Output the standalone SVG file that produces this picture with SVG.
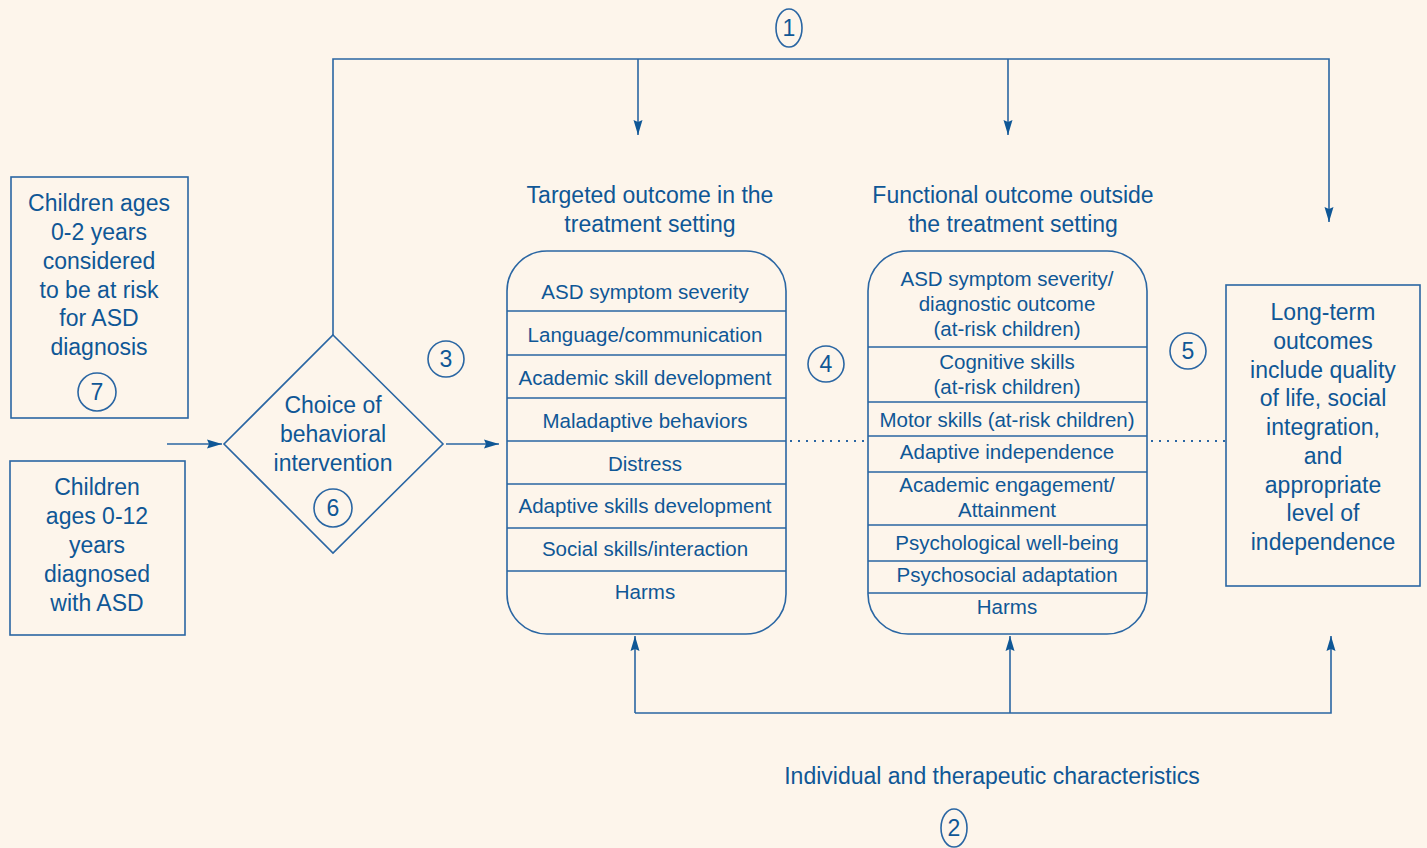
<svg xmlns="http://www.w3.org/2000/svg" width="1427" height="848" viewBox="0 0 1427 848">
<defs>
<style>
text{font-family:"Liberation Sans","DejaVu Sans",sans-serif;fill:#0f5796;text-anchor:middle;font-size:23px}
.h{font-size:23px}
.s{font-size:20.5px}
.n{font-size:23px}
.ln{fill:none;stroke:#2a66a3;stroke-width:1.6}
.dot{fill:none;stroke:#2a66a3;stroke-width:2;stroke-dasharray:2 6}
</style>
<marker id="ab" viewBox="0 0 15 10" refX="15" refY="5" markerWidth="15" markerHeight="10" markerUnits="userSpaceOnUse" orient="auto">
<path d="M0,0.5 L15,5 L0,9.5 L2,5 Z" fill="#0f5796"/>
</marker>
</defs>
<rect width="1427" height="848" fill="#fdf5eb"/>

<g id="connectors">
<path class="ln" d="M333,335 V59 H1329 V222" marker-end="url(#ab)"/>
<path class="ln" d="M638,59 V135" marker-end="url(#ab)"/>
<path class="ln" d="M1008,59 V135" marker-end="url(#ab)"/>
<path class="ln" d="M167,444 H222" marker-end="url(#ab)"/>
<path class="ln" d="M446,444 H499" marker-end="url(#ab)"/>
<path class="ln" d="M635,713 H1331 V636" marker-end="url(#ab)"/>
<path class="ln" d="M635,713 V636" marker-end="url(#ab)"/>
<path class="ln" d="M1010,713 V636" marker-end="url(#ab)"/>
<path class="dot" d="M790,441 H868"/>
<path class="dot" d="M1151,441 H1225"/>
</g>

<g id="label1">
<ellipse class="ln" cx="789" cy="28" rx="13" ry="19"/>
<text class="n" x="789" y="36">1</text>
</g>
<g id="label2">
<ellipse class="ln" cx="954" cy="828" rx="13" ry="19"/>
<text class="n" x="954" y="836">2</text>
<text class="h" x="992" y="784">Individual and therapeutic characteristics</text>
</g>
<g id="label3">
<circle class="ln" cx="446" cy="359" r="18"/>
<text class="n" x="446" y="367">3</text>
</g>
<g id="label4">
<circle class="ln" cx="826" cy="364" r="18"/>
<text class="n" x="826" y="372">4</text>
</g>
<g id="label5">
<circle class="ln" cx="1188" cy="351" r="18"/>
<text class="n" x="1188" y="359">5</text>
</g>

<g id="atrisk">
<rect class="ln" x="11" y="177" width="177" height="241"/>
<text x="99" y="211">Children ages</text>
<text x="99" y="240">0-2 years</text>
<text x="99" y="269">considered</text>
<text x="99" y="298">to be at risk</text>
<text x="99" y="326">for ASD</text>
<text x="99" y="355">diagnosis</text>
<circle class="ln" cx="97" cy="392" r="19"/>
<text class="n" x="97" y="400">7</text>
</g>

<g id="diagnosed">
<rect class="ln" x="10" y="461" width="175" height="174"/>
<text x="97" y="495">Children</text>
<text x="97" y="524">ages 0-12</text>
<text x="97" y="553">years</text>
<text x="97" y="582">diagnosed</text>
<text x="97" y="611">with ASD</text>
</g>

<g id="choice">
<path class="ln" d="M333,335 L443,444 L333,553 L224,444 Z"/>
<text x="333" y="413">Choice of</text>
<text x="333" y="442">behavioral</text>
<text x="333" y="471">intervention</text>
<circle class="ln" cx="333" cy="508" r="19"/>
<text class="n" x="333" y="516">6</text>
</g>

<g id="targeted">
<text class="h" x="650" y="203">Targeted outcome in the</text>
<text class="h" x="650" y="232">treatment setting</text>
<rect class="ln" x="507" y="251" width="279" height="383" rx="40"/>
<path class="ln" d="M507,311 H786 M507,355 H786 M507,398 H786 M507,441 H786 M507,484 H786 M507,528 H786 M507,571 H786"/>
<text class="s" x="645" y="299">ASD symptom severity</text>
<text class="s" x="645" y="342">Language/communication</text>
<text class="s" x="645" y="385">Academic skill development</text>
<text class="s" x="645" y="428">Maladaptive behaviors</text>
<text class="s" x="645" y="471">Distress</text>
<text class="s" x="645" y="513">Adaptive skills development</text>
<text class="s" x="645" y="556">Social skills/interaction</text>
<text class="s" x="645" y="599">Harms</text>
</g>

<g id="functional">
<text class="h" x="1013" y="203">Functional outcome outside</text>
<text class="h" x="1013" y="232">the treatment setting</text>
<rect class="ln" x="868" y="251" width="279" height="383" rx="40"/>
<path class="ln" d="M868,347 H1147 M868,402 H1147 M868,436 H1147 M868,472 H1147 M868,525 H1147 M868,561 H1147 M868,593 H1147"/>
<text class="s" x="1007" y="286">ASD symptom severity/</text>
<text class="s" x="1007" y="311">diagnostic outcome</text>
<text class="s" x="1007" y="336">(at-risk children)</text>
<text class="s" x="1007" y="369">Cognitive skills</text>
<text class="s" x="1007" y="394">(at-risk children)</text>
<text class="s" x="1007" y="427">Motor skills (at-risk children)</text>
<text class="s" x="1007" y="459">Adaptive independence</text>
<text class="s" x="1007" y="492">Academic engagement/</text>
<text class="s" x="1007" y="517">Attainment</text>
<text class="s" x="1007" y="550">Psychological well-being</text>
<text class="s" x="1007" y="582">Psychosocial adaptation</text>
<text class="s" x="1007" y="614">Harms</text>
</g>

<g id="longterm">
<rect class="ln" x="1226" y="285" width="194" height="301"/>
<text x="1323" y="320">Long-term</text>
<text x="1323" y="349">outcomes</text>
<text x="1323" y="378">include quality</text>
<text x="1323" y="406">of life, social</text>
<text x="1323" y="435">integration,</text>
<text x="1323" y="464">and</text>
<text x="1323" y="493">appropriate</text>
<text x="1323" y="521">level of</text>
<text x="1323" y="550">independence</text>
</g>
</svg>
